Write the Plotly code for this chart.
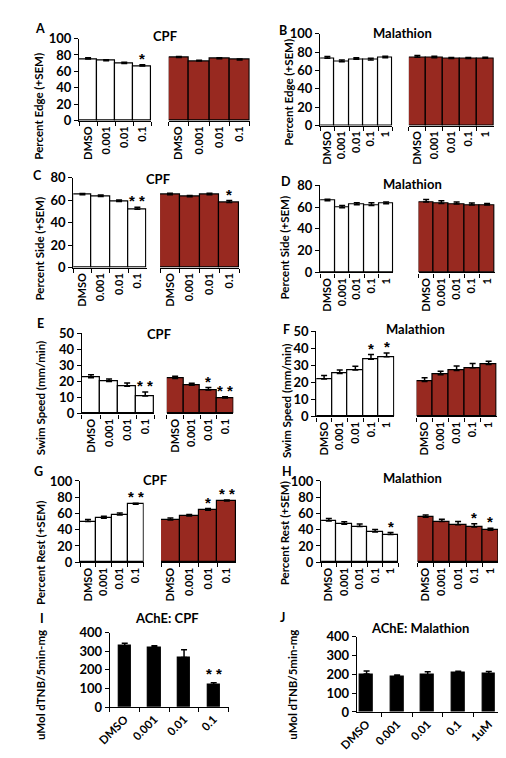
import plotly.graph_objects as go

# ---------------- data ----------------
conc_cpf = ["DMSO", "0.001", "0.01", "0.1"]
conc_mal = ["DMSO", "0.001", "0.01", "0.1", "1"]
ache_mal_labels = ["DMSO", "0.001", "0.01", "0.1", "1uM"]

# A: Percent Edge, CPF
edge_cpf_white = [75, 73, 69.5, 66.5]
edge_cpf_white_err = [1.5, 1.2, 1.5, 1.5]
edge_cpf_white_sig = ["", "", "", "*"]
edge_cpf_red = [77, 72.5, 75.5, 74]
edge_cpf_red_err = [1.2, 1.2, 1.2, 1.2]
edge_cpf_red_sig = ["", "", "", ""]
# B: Percent Edge, Malathion
edge_mal_white = [73.2, 69.3, 72.1, 71.4, 73.9]
edge_mal_white_err = [2, 2, 1.8, 1.8, 1.5]
edge_mal_white_sig = ["", "", "", "", ""]
edge_mal_red = [74.3, 73.9, 72.9, 72.9, 73.2]
edge_mal_red_err = [2, 1.5, 1.2, 1.2, 1.2]
edge_mal_red_sig = ["", "", "", "", ""]
# C: Percent Side, CPF
side_cpf_white = [64.6, 63.2, 58.6, 51.9]
side_cpf_white_err = [1.2, 1.2, 1.5, 1.8]
side_cpf_white_sig = ["", "", "", "**"]
side_cpf_red = [64.6, 62.9, 64.6, 57.7]
side_cpf_red_err = [1.5, 1.2, 1.5, 1.8]
side_cpf_red_sig = ["", "", "", "*"]
# D: Percent Side, Malathion
side_mal_white = [65.8, 59.5, 62.2, 61.6, 63.1]
side_mal_white_err = [1.5, 2, 1.8, 2.5, 1.5]
side_mal_white_sig = ["", "", "", "", ""]
side_mal_red = [64.6, 63.4, 62.8, 61.9, 61.9]
side_mal_red_err = [2.5, 2.5, 2, 2, 1.5]
side_mal_red_sig = ["", "", "", "", ""]
# E: Swim speed, CPF
speed_cpf_white = [22.3, 19.9, 17.0, 10.8]
speed_cpf_white_err = [1.8, 1.5, 2.0, 2.5]
speed_cpf_white_sig = ["", "", "", "**"]
speed_cpf_red = [21.7, 17.6, 14.6, 9.6]
speed_cpf_red_err = [1.5, 1.2, 1.5, 0.8]
speed_cpf_red_sig = ["", "", "*", "**"]
# F: Swim speed, Malathion
speed_mal_white = [22.0, 25.2, 27.2, 33.5, 35.0]
speed_mal_white_err = [2.0, 2.0, 2.2, 2.8, 2.2]
speed_mal_white_sig = ["", "", "", "*", "*"]
speed_mal_red = [20.5, 24.5, 27.0, 28.5, 30.5]
speed_mal_red_err = [2.2, 2.0, 2.5, 2.5, 1.8]
speed_mal_red_sig = ["", "", "", "", ""]
# G: Percent Rest, CPF
rest_cpf_white = [50, 54, 58, 71.2]
rest_cpf_white_err = [2.5, 2.5, 2.5, 1.5]
rest_cpf_white_sig = ["", "", "", "**"]
rest_cpf_red = [52, 56.8, 64, 75.2]
rest_cpf_red_err = [2.5, 2.0, 2.0, 1.5]
rest_cpf_red_sig = ["", "", "*", "**"]
# H: Percent Rest, Malathion
rest_mal_white = [50.8, 46.8, 44.0, 37.2, 34.0]
rest_mal_white_err = [3, 3, 3, 3, 2.5]
rest_mal_white_sig = ["", "", "", "", "*"]
rest_mal_red = [55.2, 50.0, 46.0, 43.2, 39.2]
rest_mal_red_err = [3, 3, 4, 4, 2.5]
rest_mal_red_sig = ["", "", "", "*", "*"]
# I: AChE CPF
ache_cpf = [328, 322, 266, 119]
ache_cpf_err = [15, 8, 42, 12]
ache_cpf_sig = ["", "", "", "**"]
# J: AChE Malathion
ache_mal = [201, 190, 196, 208, 203]
ache_mal_err = [17, 6, 17, 8, 12]
ache_mal_sig = ["", "", "", "", ""]

# ---------------- layout helpers ----------------
W, H = 506, 758
FONT = "Lato"
STARFONT = "Liberation Sans"
RED = "#982920"


def fx(x):
    return x / W


def fy(y):
    return 1 - y / H


fig = go.Figure()
layout_axes = {}
annotations = []
counter = [0]


def new_axes(x0, x1, ytop, ybot, yrange, dtick, cats, show_y=True,
             tickangle=-90, xrange=None, xfont=11):
    counter[0] += 1
    n = counter[0]
    sx = "" if n == 1 else str(n)
    xa = dict(
        domain=[fx(x0), fx(x1)], anchor="y" + sx, type="category",
        categoryorder="array", categoryarray=cats,
        showline=True, linecolor="black", linewidth=1.3,
        ticks="outside", ticklen=4, tickwidth=1, tickcolor="black",
        tickson="boundaries", tickangle=tickangle,
        tickfont=dict(family=FONT, size=xfont, color="black", weight="bold"),
        showgrid=False, zeroline=False, fixedrange=True,
    )
    if xrange is not None:
        xa["range"] = xrange
    else:
        xa["range"] = [-0.5, len(cats) - 0.5]
    ya = dict(
        domain=[fy(ybot), fy(ytop)], anchor="x" + sx, range=yrange,
        dtick=dtick, tick0=0, showgrid=False, zeroline=False,
        fixedrange=True,
    )
    if show_y:
        ya.update(
            showline=True, linecolor="black", linewidth=1.3,
            ticks="outside", ticklen=4, tickwidth=1, tickcolor="black",
            tickfont=dict(family=FONT, size=13, color="black", weight="bold"),
        )
    else:
        ya.update(visible=False)
    layout_axes["xaxis" + sx] = xa
    layout_axes["yaxis" + sx] = ya
    return "x" + sx, "y" + sx


def add_bars(xref, yref, cats, vals, errs, sig, fill, width=1.0, star_shift=-4):
    fig.add_trace(go.Bar(
        x=cats, y=vals, xaxis=xref, yaxis=yref, width=width,
        marker=dict(color=fill, line=dict(color="black", width=1.2)),
        error_y=dict(type="data", symmetric=False, array=errs,
                     arrayminus=[0] * len(vals), color="black",
                     thickness=1.5, width=3),
        showlegend=False, hoverinfo="skip",
    ))
    for i, (v, e, s) in enumerate(zip(vals, errs, sig)):
        if s:
            annotations.append(dict(
                x=i, y=v + e, xref=xref, yref=yref,
                text=" ".join(list(s)), showarrow=False,
                yanchor="bottom", yshift=star_shift,
                font=dict(family=STARFONT, size=15, color="black"),
            ))


def text(x, y, s, size=12, angle=0, xanchor="center"):
    annotations.append(dict(
        x=fx(x), y=fy(y), xref="paper", yref="paper", text=s,
        showarrow=False, textangle=angle, xanchor=xanchor, yanchor="middle",
        font=dict(family=FONT, size=size, color="black", weight="bold"),
    ))


panels = [
    dict(letter="A", lpos=(15, 13), title="CPF", tpos=(144, 20),
         ytitle="Percent Edge (+SEM)", ypos=(12, 92), cats=conc_cpf,
         w=(edge_cpf_white, edge_cpf_white_err, edge_cpf_white_sig),
         r=(edge_cpf_red, edge_cpf_red_err, edge_cpf_red_sig),
         wx=(55, 130), rx=(148, 232), yt=23, yb=107, yr=[0, 100], dt=20),
    dict(letter="B", lpos=(266, 15), title="Malathion", tpos=(390, 17),
         ytitle="Percent Edge (+SEM)", ypos=(272, 78), cats=conc_mal,
         w=(edge_mal_white, edge_mal_white_err, edge_mal_white_sig),
         r=(edge_mal_red, edge_mal_red_err, edge_mal_red_sig),
         wx=(305, 380), rx=(397, 485), yt=18, yb=112, yr=[0, 100], dt=20),
    dict(letter="C", lpos=(12, 163), title="CPF", tpos=(137, 167),
         ytitle="Percent Side (+SEM)", ypos=(14, 238), cats=conc_cpf,
         w=(side_cpf_white, side_cpf_white_err, side_cpf_white_sig),
         r=(side_cpf_red, side_cpf_red_err, side_cpf_red_sig),
         wx=(49, 125), rx=(139, 221), yt=165, yb=257, yr=[0, 80], dt=20),
    dict(letter="D", lpos=(270, 169), title="Malathion", tpos=(401, 172),
         ytitle="Percent Side (+SEM)", ypos=(268, 236), cats=conc_mal,
         w=(side_mal_white, side_mal_white_err, side_mal_white_sig),
         r=(side_mal_red, side_mal_red_err, side_mal_red_sig),
         wx=(305, 381), rx=(407, 486), yt=173, yb=262, yr=[0, 80], dt=20),
    dict(letter="E", lpos=(15, 314), title="CPF", tpos=(138, 325),
         ytitle="Swim Speed (mm/min)", ypos=(15, 390), cats=conc_cpf,
         w=(speed_cpf_white, speed_cpf_white_err, speed_cpf_white_sig),
         r=(speed_cpf_red, speed_cpf_red_err, speed_cpf_red_sig),
         wx=(58, 133), rx=(146, 215), yt=324, yb=406, yr=[0, 50], dt=10),
    dict(letter="F", lpos=(270, 320), title="Malathion", tpos=(404, 320),
         ytitle="Swim Speed (mm/min)", ypos=(270, 393), cats=conc_mal,
         w=(speed_mal_white, speed_mal_white_err, speed_mal_white_sig),
         r=(speed_mal_red, speed_mal_red_err, speed_mal_red_sig),
         wx=(301, 382), rx=(405, 488), yt=322, yb=409, yr=[0, 50], dt=10),
    dict(letter="G", lpos=(13, 465), title="CPF", tpos=(134, 474),
         ytitle="Percent Rest (+SEM)", ypos=(15, 548), cats=conc_cpf,
         w=(rest_cpf_white, rest_cpf_white_err, rest_cpf_white_sig),
         r=(rest_cpf_red, rest_cpf_red_err, rest_cpf_red_sig),
         wx=(56, 122), rx=(140, 218), yt=475, yb=558, yr=[0, 100], dt=20),
    dict(letter="H", lpos=(271, 465), title="Malathion", tpos=(401, 472),
         ytitle="Percent Rest (+SEM)", ypos=(268, 528), cats=conc_mal,
         w=(rest_mal_white, rest_mal_white_err, rest_mal_white_sig),
         r=(rest_mal_red, rest_mal_red_err, rest_mal_red_sig),
         wx=(306, 386), rx=(406, 490), yt=475, yb=558, yr=[0, 100], dt=20),
]

for p in panels:
    xw, yw = new_axes(p["wx"][0], p["wx"][1], p["yt"], p["yb"], p["yr"], p["dt"], p["cats"])
    add_bars(xw, yw, p["cats"], *p["w"], fill="white")
    xr, yr_ = new_axes(p["rx"][0], p["rx"][1], p["yt"], p["yb"], p["yr"], p["dt"], p["cats"], show_y=False)
    add_bars(xr, yr_, p["cats"], *p["r"], fill=RED)
    text(*p["lpos"], p["letter"], size=12.5)
    text(*p["tpos"], p["title"], size=13)
    text(*p["ypos"], p["ytitle"], size=11.5, angle=-90)

# I
xi, yi = new_axes(87, 210, 630, 706, [0, 400], 100, conc_cpf, tickangle=-45, xfont=11.5)
add_bars(xi, yi, conc_cpf, ache_cpf, ache_cpf_err, ache_cpf_sig, fill="black", width=0.42,
         star_shift=-1)
text(17, 615, "I", size=12.5)
text(146, 615, "AChE: CPF", size=13)
text(15, 683, "uMol dTNB/5min-mg", size=11.5, angle=-90)

# J
xj, yj = new_axes(343, 503, 634, 711, [0, 400], 100, ache_mal_labels, tickangle=-45,
                  xrange=[-0.32, 4.73], xfont=11.5)
add_bars(xj, yj, ache_mal_labels, ache_mal, ache_mal_err, ache_mal_sig, fill="black", width=0.42)
text(266, 614, "J", size=12.5)
text(409, 625, "AChE: Malathion", size=13)
text(276, 683, "uMol dTNB/5min-mg", size=11.5, angle=-90)

fig.update_layout(
    width=W, height=H, autosize=False,
    margin=dict(l=0, r=0, t=0, b=0, pad=0),
    paper_bgcolor="white", plot_bgcolor="white",
    font=dict(family=FONT, size=11, color="black", weight="bold"),
    annotations=annotations, showlegend=False, bargap=0,
    **layout_axes,
)

fig.write_html("out.html")
